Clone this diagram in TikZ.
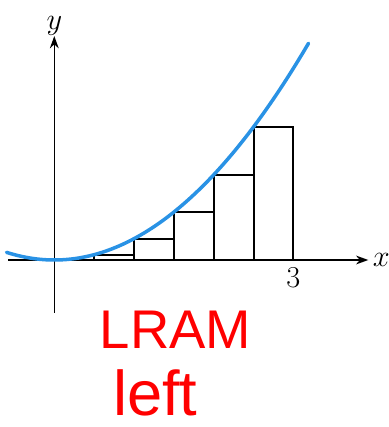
\documentclass[tikz,border=0pt]{standalone}
\usepackage{fontspec}
\newfontfamily\handfont{Liberation Sans}
\usetikzlibrary{arrows.meta}
\definecolor{CurveBlue}{RGB}{41,146,229}
\definecolor{InkRed}{RGB}{255,0,0}

\begin{document}
\begin{tikzpicture}[x=1.594cm,y=0.426cm,font=\fontsize{17}{20}\selectfont]
       \useasboundingbox (-1.086cm,-3.34cm) rectangle (6.674cm,5.2cm);
       % rectangles, left endpoints
       \foreach \a in {0.5,1,...,2.5}
         \draw[line width=1.1pt] (\a,0) rectangle ({\a+0.5},{\a*\a});
       \draw[line width=0.9pt,-{Stealth[length=7pt,width=5pt]}] (-0.58,0) coordinate (L) -- (3.94,0) coordinate (R);
       \draw[line width=0.9pt,-{Stealth[length=7pt,width=5pt]}] (0,-1.06cm) coordinate (B) -- (0,4.48cm) coordinate (T);
       \draw[CurveBlue,line width=2pt,line cap=round] plot[domain=-0.6:3.19,samples=80,smooth] (\x,{\x*\x});
       \node[right=-1pt] (xlab) at (R) {\(x\)};
       \node[above=-3pt] (ylab) at (T) {\(y\)};
       \node[below=1pt] (three) at (3,0) {\(3\)};
       \node[InkRed,inner sep=0pt,font=\handfont\fontsize{31}{34}\selectfont] (lram) at (2.425cm,-1.4cm) {LRAM};
       \node[InkRed,inner sep=0pt,font=\handfont\fontsize{36}{38}\selectfont] (left) at (2.02cm,-2.66cm) {left};
     \end{tikzpicture}
\end{document}
